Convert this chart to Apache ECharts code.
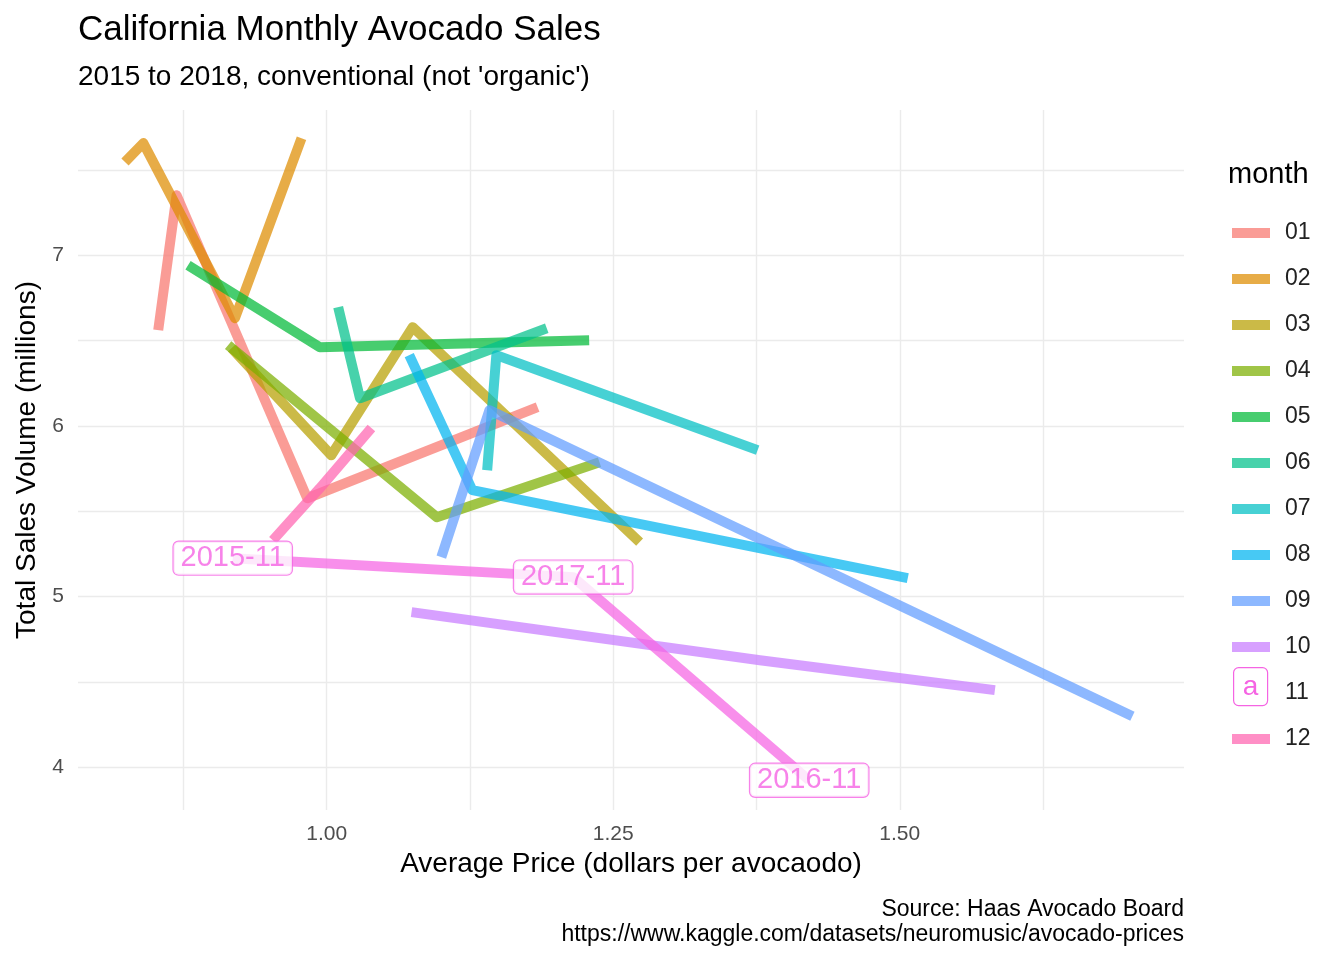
<!DOCTYPE html>
<html><head><meta charset="utf-8">
<script src="https://cdn.jsdelivr.net/npm/echarts@6/dist/echarts.min.js"></script>
<style>html,body{margin:0;padding:0;background:#fff}#c{width:1344px;height:960px}</style>
</head><body><div id="c"></div>
<script>
const months = ['01','02','03','04','05','06','07','08','09','10','11','12'];
const colors = ['#F8766D','#DE8C00','#B79F00','#7CAE00','#00BA38','#00C08B','#00BFC4','#00B4F0','#619CFF','#C77CFF','#F564E3','#FF64B0'];
// [price, volume(millions)] per month, one point per year
const m01 = [[0.853,6.561],[0.869,7.351],[0.983,5.576],[1.184,6.110]];
const m02 = [[0.824,7.545],[0.840,7.656],[0.920,6.631],[0.978,7.685]];
const m03 = [[0.917,6.455],[1.004,5.828],[1.075,6.578],[1.273,5.319]];
const m04 = [[0.914,6.473],[1.096,5.465],[1.238,5.787]];
const m05 = [[0.879,6.941],[0.994,6.461],[1.229,6.502]];
const m06 = [[1.010,6.695],[1.029,6.162],[1.192,6.572]];
const m07 = [[1.140,5.740],[1.148,6.414],[1.376,5.858]];
const m08 = [[1.072,6.414],[1.127,5.623],[1.507,5.108]];
const m09 = [[1.100,5.231],[1.142,6.092],[1.703,4.299]];
const m10 = [[1.074,4.909],[1.378,4.627],[1.583,4.452]];
const m11 = [[0.918,5.225],[1.215,5.114],[1.421,3.924]];
const m12 = [[0.953,5.330],[0.994,5.635],[1.039,5.987]];
const m11Labels = ['2015-11','2017-11','2016-11'];
const xTicks = [0.875,1.0,1.125,1.25,1.375,1.5,1.625];
const xLabels = [1.0,1.25,1.5];
const yTicks = [4,4.5,5,5.5,6,6.5,7,7.5];
const yLabels = [4,5,6,7];
const allData = [m01,m02,m03,m04,m05,m06,m07,m08,m09,m10,m11,m12];
const FF = 'Liberation Sans, Arial';

const series = allData.map((d,i)=>({
  name: months[i], type:'line', data:d, symbol:'none', silent:true,
  lineStyle:{width:10, color:colors[i], opacity:0.72, cap:'butt', join:'round'},
  itemStyle:{color:colors[i], opacity:0.72}
}));
series.push({
  type:'scatter', name:'lab', data:m11.map((p,i)=>({value:p, name:m11Labels[i]})),
  symbolSize:0, z:10, silent:true,
  label:{show:true, position:'inside', formatter:p=>p.name, color:'#F564E3', fontSize:29,
    fontFamily:FF, backgroundColor:'#fff', borderColor:'#F564E3', borderWidth:1.2,
    borderRadius:5, padding:[3,7,1,7]}
});
const legendData = months.map((m,i)=> m==='11'
  ? {name:m, icon:'rect', itemStyle:{opacity:0}}
  : {name:m, icon:'rect', itemStyle:{opacity:0.72}});

const chart = echarts.init(document.getElementById('c'));
chart.setOption({
  animation:false,
  textStyle:{fontFamily:FF},
  title:[
    {text:'California Monthly Avocado Sales', left:73, top:8, textStyle:{fontSize:35, fontWeight:'normal', color:'#000'}},
    {text:"2015 to 2018, conventional (not 'organic')", left:73, top:58, textStyle:{fontSize:28, fontWeight:'normal', color:'#000'}},
    {text:'Source: Haas Avocado Board', right:155, top:893, textStyle:{fontSize:23, fontWeight:'normal', color:'#000'}},
    {text:'https://www.kaggle.com/datasets/neuromusic/avocado-prices', right:155, top:918, textStyle:{fontSize:23, fontWeight:'normal', color:'#000'}}
  ],
  legend:{orient:'vertical', left:1227, top:216, data:legendData, itemWidth:38, itemHeight:10, itemGap:22,
    textStyle:{fontSize:23, lineHeight:24, color:'#222', padding:[0,0,0,10]}, selectedMode:false},
  graphic:[
    {type:'text', left:1228, top:160, style:{text:'month', fontSize:29, fill:'#000', fontFamily:FF}},
    {type:'group', left:1233, top:667, children:[
      {type:'rect', shape:{x:0,y:0,width:34,height:38,r:5}, style:{fill:'#fff', stroke:'#F564E3', lineWidth:1.2}},
      {type:'text', style:{x:17,y:20,text:'a', fontSize:28, fill:'#F564E3', align:'center', verticalAlign:'middle', fontFamily:FF}}
    ]}
  ],
  grid:{left:78, right:160, top:110, bottom:150},
  xAxis:{type:'value', min:0.783, max:1.748, name:'Average Price (dollars per avocaodo)', nameLocation:'middle', nameGap:40,
    nameTextStyle:{fontSize:28, color:'#000'},
    axisLine:{show:false}, axisTick:{show:false, customValues:xTicks},
    axisLabel:{customValues:xLabels, formatter:v=>v.toFixed(2), fontSize:21, color:'#4d4d4d', margin:14},
    splitLine:{show:true, lineStyle:{color:'#ebebeb', width:1.4}}},
  yAxis:{type:'value', min:3.75, max:7.85, name:'Total Sales Volume (millions)', nameLocation:'middle', nameGap:36,
    nameTextStyle:{fontSize:28, color:'#000'},
    axisLine:{show:false}, axisTick:{show:false, customValues:yTicks},
    axisLabel:{customValues:yLabels, fontSize:21, color:'#4d4d4d', margin:14},
    splitLine:{show:true, lineStyle:{color:'#ebebeb', width:1.4}}},
  series:series
});
</script></body></html>
